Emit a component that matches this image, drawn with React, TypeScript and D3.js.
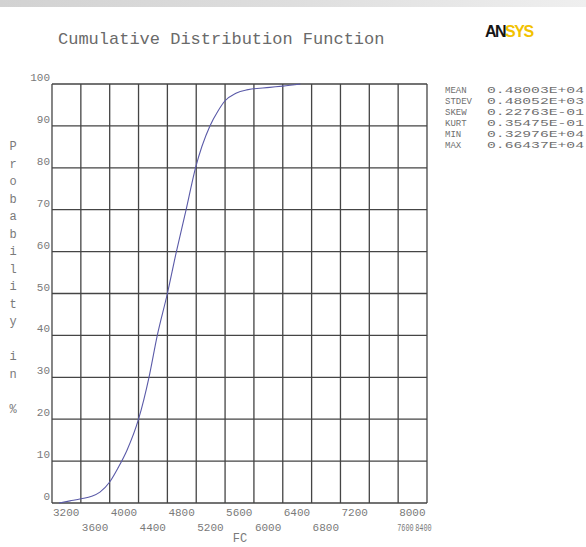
import React from "react";
import * as d3 from "d3";

// Cumulative distribution of FC (probability in %)
const fcValues = [3298, 3450, 3600, 3750, 3865, 4000, 4120, 4240, 4400, 4545, 4660, 4800, 4925, 5060, 5190, 5390, 5500, 5600, 5750, 5900, 6220, 6400, 6644];
const probValues = [0, 0.5, 1.0, 1.6, 2.6, 5, 8.5, 12.6, 20, 30, 40, 50, 60, 70, 80, 90, 93.5, 96, 97.8, 98.6, 99.2, 99.5, 100];

const xTicks = [3200, 3600, 4000, 4400, 4800, 5200, 5600, 6000, 6400, 6800, 7200, 7600, 8000, 8400];
const yTicks = [0, 10, 20, 30, 40, 50, 60, 70, 80, 90, 100];

const statLabels = ["MEAN", "STDEV", "SKEW", "KURT", "MIN", "MAX"];
const statValues = ["0.48003E+04", "0.48052E+03", "0.22763E-01", "0.35475E-01", "0.32976E+04", "0.66437E+04"];

const title = "Cumulative Distribution Function";
const yTitle = "Probability in %";
const xTitle = "FC";

const W = 586;
const H = 547;
const plot = { left: 52, top: 84, right: 427, bottom: 503 };
const mono = "'Liberation Mono', 'DejaVu Sans Mono', monospace";
const textGray = "#7a7a7a";
const gridColor = "#444";

export default function App() {
  const x = d3.scaleLinear().domain([3200, 8400]).range([plot.left, plot.right]);
  const y = d3.scaleLinear().domain([0, 100]).range([plot.bottom, plot.top]);

  const line = d3
    .line<number>()
    .x((_, i) => x(fcValues[i]))
    .y((d) => y(d))
    .curve(d3.curveMonotoneX);

  return (
    <svg
      width={W}
      height={H}
      style={{ position: "absolute", left: 0, top: 0, background: "#fff" }}
    >
      <defs>
        <linearGradient id="band" x1="0" x2="1" y1="0" y2="0">
          <stop offset="0" stopColor="#d2d2d2" />
          <stop offset="0.5" stopColor="#dedede" />
          <stop offset="1" stopColor="#efefef" />
        </linearGradient>
        <filter id="soft">
          <feGaussianBlur stdDeviation="0.35" />
        </filter>
      </defs>
      <rect x={0} y={0} width={W} height={7} fill="url(#band)" />

      {/* title */}
      <text x={58} y={44} fontFamily={mono} fontSize={17} fill="#6a6a6a">
        {title}
      </text>

      {/* logo */}
      <text
        x={485}
        y={37}
        fontFamily="'Liberation Sans', Arial, sans-serif"
        fontWeight="bold"
        fontSize={16}
        letterSpacing={-1.5}
      >
        <tspan fill="#151515">AN</tspan>
        <tspan fill="#f2c200">SYS</tspan>
      </text>

      <g filter="url(#soft)">
        {/* grid */}
        {xTicks.map((t) => (
          <line key={"gx" + t} x1={x(t)} x2={x(t)} y1={plot.top} y2={plot.bottom} stroke={gridColor} strokeWidth={1.3} />
        ))}
        {yTicks.map((t) => (
          <line key={"gy" + t} x1={plot.left} x2={plot.right} y1={y(t)} y2={y(t)} stroke={gridColor} strokeWidth={1.3} />
        ))}

        {/* CDF curve */}
        <path d={line(probValues) || ""} fill="none" stroke="#5a5aa8" strokeWidth={1.1} />
      </g>

      {/* y tick labels */}
      {yTicks.map((t) => (
        <text key={"yl" + t} x={plot.left - 2} y={y(t) - 3} textAnchor="end" fontFamily={mono} fontSize={11} fill={textGray}>
          {t}
        </text>
      ))}

      {/* x tick labels on two alternating rows */}
      {xTicks.map((t, i) => {
        const row = i % 2;
        const last = i >= xTicks.length - 3 && row === 1;
        let xp = x(t) + 1;
        let len: number | undefined = undefined;
        if (last) {
          // the final pair is squeezed under the right edge
          len = 16.5;
          xp = t === 7600 ? x(8000) - 1 : x(8000) + 17;
        }
        return (
          <text
            key={"xl" + t}
            x={xp}
            y={plot.bottom + (row === 0 ? 13 : 28)}
            fontFamily={mono}
            fontSize={11}
            fill={textGray}
            textLength={len}
            lengthAdjust={len ? "spacingAndGlyphs" : undefined}
          >
            {t}
          </text>
        );
      })}

      {/* x axis title */}
      <text x={240} y={542} textAnchor="middle" fontFamily={mono} fontSize={12} fill={textGray}>
        {xTitle}
      </text>

      {/* y axis title, one character per line */}
      {yTitle.split("").map((c, i) => (
        <text key={"yt" + i} x={13} y={150 + i * 17.5} textAnchor="middle" fontFamily={mono} fontSize={12} fill={textGray}>
          {c}
        </text>
      ))}

      {/* statistics */}
      {statLabels.map((s, i) => (
        <g key={"st" + s}>
          <text x={445} y={93 + i * 11} fontFamily={mono} fontSize={9} fill="#707070">
            {s}
          </text>
          <text x={487} y={93 + i * 11} fontFamily={mono} fontSize={9} fill="#707070" textLength={97} lengthAdjust="spacingAndGlyphs">
            {statValues[i]}
          </text>
        </g>
      ))}
    </svg>
  );
}
